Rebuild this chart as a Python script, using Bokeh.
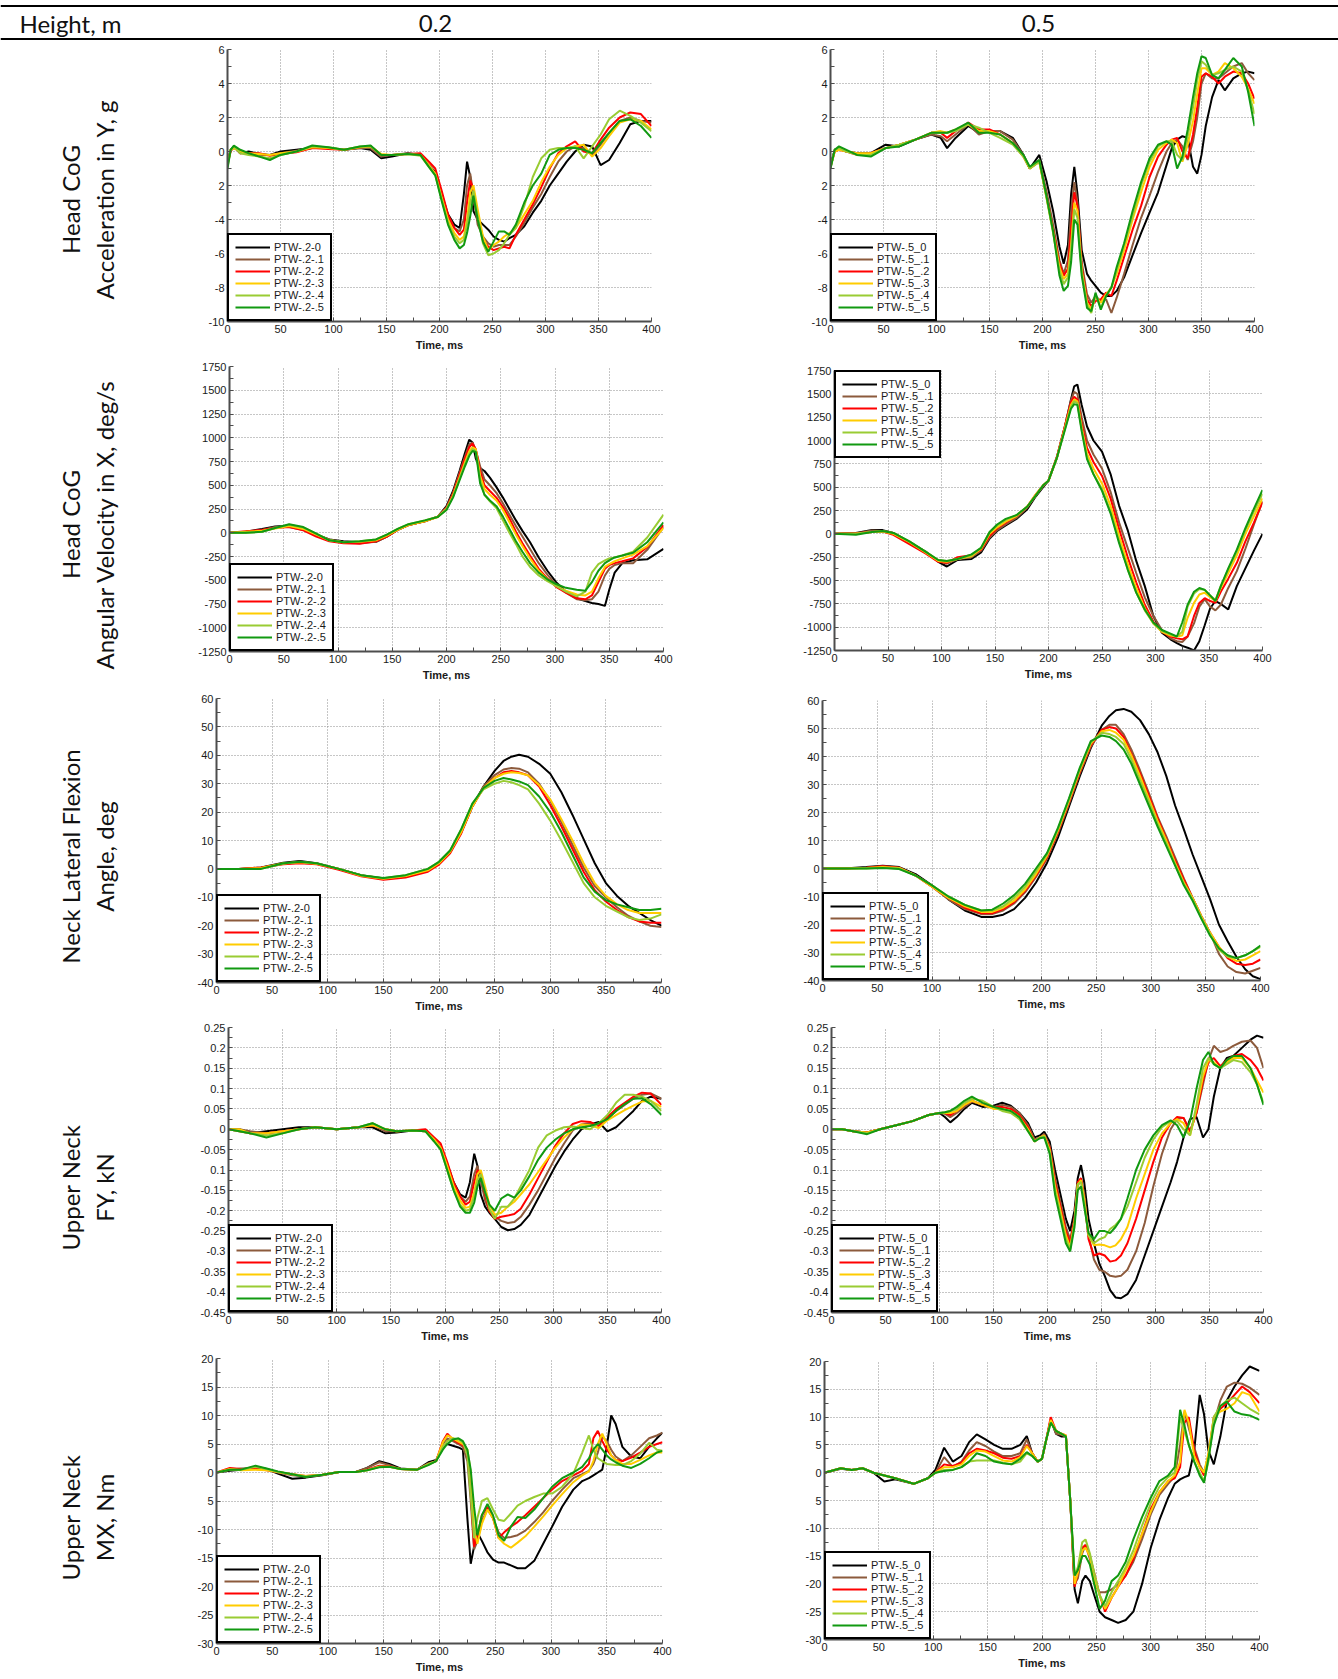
import math
from bokeh.plotting import figure
from bokeh.layouts import row, column
from bokeh.models import Range1d, FixedTicker, Legend, LegendItem, Label, Span
from bokeh.embed import file_html
from bokeh.resources import INLINE

# ---------------------------------------------------------------- series setup
COLORS = ["#000000", "#8c5a3c", "#ff0000", "#ffcc00", "#99cc33", "#119911"]
NAMES_02 = ["PTW-.2-0", "PTW-.2-.1", "PTW-.2-.2", "PTW-.2-.3", "PTW-.2-.4", "PTW-.2-.5"]
NAMES_05 = ["PTW-.5_0", "PTW-.5_.1", "PTW-.5_.2", "PTW-.5_.3", "PTW-.5_.4", "PTW-.5_.5"]

HEIGHT_HEADERS = ["0.2", "0.5"]
ROW_TITLES = [
    ("Head CoG", "Acceleration in Y, g"),
    ("Head CoG", "Angular Velocity in X, deg/s"),
    ("Neck Lateral Flexion", "Angle, deg"),
    ("Upper Neck", "FY, kN"),
    ("Upper Neck", "MX, Nm"),
]

TIME_TICKS = [0, 50, 100, 150, 200, 250, 300, 350, 400]

ACC_TICKS = [-10, -8, -6, -4, -2, 0, 2, 4, 6]
ACC_LABELS = ["-10", "-8", "-6", "-4", "2", "0", "2", "4", "6"]
VEL_TICKS = [-1250, -1000, -750, -500, -250, 0, 250, 500, 750, 1000, 1250, 1500, 1750]
VEL_LABELS = ["-1250", "-1000", "-750", "-500", "-250", "0", "250", "500", "750",
              "1000", "1250", "1500", "1750"]
ANG_TICKS = [-40, -30, -20, -10, 0, 10, 20, 30, 40, 50, 60]
ANG_LABELS = ["-40", "-30", "-20", "-10", "0", "10", "20", "30", "40", "50", "60"]
FY_TICKS = [-0.45, -0.4, -0.35, -0.3, -0.25, -0.2, -0.15, -0.1, -0.05, 0, 0.05, 0.1, 0.15, 0.2, 0.25]
FY_LABELS = ["-0.45", "-0.4", "-0.35", "-0.3", "-0.25", "-0.2", "-0.15", "0.1", "-0.05",
             "0", "0.05", "0.1", "0.15", "0.2", "0.25"]
MX_TICKS = [-30, -25, -20, -15, -10, -5, 0, 5, 10, 15, 20]
MX_LABELS = ["-30", "-25", "-20", "-15", "-10", "5", "0", "5", "10", "15", "20"]

# ---------------------------------------------------------------- head acceleration Y, 0.2 m
# rows: time, then the six runs in legend order
acc02_rows = [
    (0, -0.6, -0.7, -0.7, -0.8, -0.9, -1.0),
    (3, 0.1, 0.1, 0.0, 0.1, 0.1, 0.1),
    (6, 0.3, 0.2, 0.3, 0.2, 0.3, 0.35),
    (12, -0.1, 0.0, -0.1, 0.0, -0.1, 0.1),
    (20, 0.0, -0.1, -0.1, -0.1, -0.2, -0.1),
    (30, -0.15, -0.2, -0.1, -0.15, -0.3, -0.3),
    (40, -0.2, -0.2, -0.25, -0.2, -0.4, -0.5),
    (50, 0.0, -0.1, -0.15, -0.1, -0.2, -0.2),
    (65, 0.1, 0.05, -0.05, 0.0, 0.0, 0.0),
    (80, 0.2, 0.2, 0.2, 0.25, 0.3, 0.35),
    (95, 0.2, 0.2, 0.15, 0.2, 0.25, 0.25),
    (110, 0.1, 0.1, 0.1, 0.1, 0.1, 0.1),
    (125, 0.2, 0.2, 0.25, 0.25, 0.3, 0.3),
    (135, 0.1, 0.2, 0.3, 0.3, 0.3, 0.35),
    (145, -0.4, -0.3, -0.2, -0.15, -0.2, -0.2),
    (155, -0.3, -0.2, -0.2, -0.2, -0.2, -0.2),
    (170, -0.1, -0.1, -0.15, -0.15, -0.15, -0.15),
    (182, -0.2, -0.2, -0.1, -0.2, -0.25, -0.2),
    (190, -0.8, -0.8, -0.6, -0.8, -0.9, -0.9),
    (196, -1.2, -1.3, -1.0, -1.3, -1.4, -1.4),
    (202, -2.5, -2.6, -2.3, -2.7, -2.8, -2.9),
    (208, -3.7, -3.9, -3.7, -4.0, -4.2, -4.3),
    (214, -4.3, -4.5, -4.5, -4.8, -5.0, -5.2),
    (219, -4.5, -4.7, -4.9, -5.2, -5.4, -5.7),
    (223, -2.5, -4.0, -4.6, -5.0, -5.2, -5.5),
    (226, -0.6, -2.0, -3.0, -4.0, -4.3, -4.8),
    (229, -1.5, -1.3, -1.7, -2.4, -3.0, -3.8),
    (232, -3.5, -2.6, -2.2, -2.0, -2.3, -2.6),
    (236, -4.0, -4.3, -3.8, -3.4, -3.8, -4.0),
    (241, -4.3, -5.0, -5.2, -5.0, -5.4, -5.3),
    (246, -4.6, -5.4, -5.6, -5.8, -6.1, -5.9),
    (251, -5.0, -5.6, -5.8, -5.5, -6.0, -5.3),
    (256, -5.2, -5.5, -5.7, -5.3, -5.8, -4.7),
    (261, -5.3, -5.5, -5.6, -5.0, -5.4, -4.7),
    (266, -5.1, -5.5, -5.7, -4.8, -4.9, -4.9),
    (272, -4.9, -5.0, -4.9, -4.5, -4.5, -4.3),
    (280, -4.4, -4.2, -4.0, -3.7, -3.2, -3.0),
    (288, -3.6, -3.3, -3.1, -2.9, -1.5, -2.0),
    (296, -2.9, -2.5, -2.1, -1.8, -0.4, -1.3),
    (304, -2.0, -1.5, -1.0, -0.9, 0.1, -0.2),
    (312, -1.3, -0.6, -0.1, -0.2, 0.2, 0.1),
    (320, -0.6, 0.0, 0.3, 0.2, 0.2, 0.2),
    (328, 0.0, 0.3, 0.6, 0.3, 0.3, 0.2),
    (336, 0.4, 0.2, 0.0, 0.4, -0.4, 0.1),
    (344, 0.3, -0.2, -0.1, -0.3, 0.3, -0.1),
    (352, -0.8, 0.4, 0.7, 0.2, 1.0, 0.5),
    (360, -0.5, 1.1, 1.4, 0.9, 1.9, 1.1),
    (370, 0.5, 1.8, 2.0, 1.7, 2.4, 1.8),
    (380, 1.6, 2.0, 2.3, 1.9, 2.1, 1.9),
    (390, 1.8, 1.8, 2.2, 1.8, 1.7, 1.5),
    (400, 1.8, 1.7, 1.5, 1.3, 1.2, 0.8),
]

# ---------------------------------------------------------------- head acceleration Y, 0.5 m
acc05_rows = [
    (0, -0.8, -0.9, -0.9, -0.9, -1.0, -1.0),
    (4, 0.1, 0.1, 0.0, 0.0, 0.1, 0.1),
    (8, 0.2, 0.2, 0.1, 0.1, 0.2, 0.3),
    (15, 0.0, 0.0, 0.0, 0.0, 0.0, 0.1),
    (25, -0.1, -0.1, -0.2, -0.1, -0.2, -0.2),
    (38, -0.1, -0.1, -0.1, -0.1, -0.2, -0.3),
    (52, 0.4, 0.2, 0.2, 0.2, 0.2, 0.2),
    (65, 0.3, 0.4, 0.4, 0.4, 0.4, 0.3),
    (80, 0.7, 0.7, 0.7, 0.7, 0.7, 0.7),
    (95, 1.0, 1.0, 1.1, 1.1, 1.1, 1.1),
    (104, 0.8, 0.9, 1.1, 1.2, 1.1, 1.1),
    (110, 0.2, 0.6, 0.8, 1.1, 1.1, 1.1),
    (118, 0.8, 1.0, 1.2, 1.3, 1.2, 1.3),
    (130, 1.5, 1.6, 1.7, 1.6, 1.6, 1.7),
    (140, 1.1, 1.0, 1.3, 1.2, 1.4, 1.1),
    (150, 1.2, 1.2, 1.3, 1.2, 1.1, 1.1),
    (160, 1.2, 1.2, 1.0, 1.0, 0.8, 1.0),
    (172, 0.8, 0.7, 0.5, 0.5, 0.4, 0.5),
    (182, -0.2, -0.2, -0.3, -0.3, -0.3, -0.2),
    (188, -1.0, -1.0, -1.0, -1.0, -1.0, -0.9),
    (197, -0.2, -0.5, -0.6, -0.6, -0.6, -0.5),
    (204, -1.8, -2.4, -2.7, -2.8, -2.8, -2.7),
    (210, -3.5, -4.3, -4.6, -4.7, -4.8, -4.7),
    (216, -5.6, -6.4, -6.6, -6.8, -7.0, -7.3),
    (220, -6.6, -7.2, -7.3, -7.5, -7.8, -8.2),
    (224, -5.5, -6.4, -6.9, -7.2, -7.4, -7.9),
    (227, -2.5, -3.5, -4.5, -5.5, -5.8, -6.5),
    (230, -0.9, -1.8, -2.4, -3.0, -3.4, -4.0),
    (233, -2.5, -3.0, -3.2, -3.5, -3.9, -4.3),
    (237, -5.8, -6.5, -6.8, -7.0, -7.1, -7.3),
    (242, -7.2, -8.4, -8.7, -8.9, -9.0, -9.2),
    (246, -7.6, -8.9, -9.1, -9.3, -9.5, -9.4),
    (250, -7.9, -8.5, -8.8, -8.5, -8.4, -8.3),
    (255, -8.3, -8.8, -8.7, -8.9, -9.2, -9.3),
    (260, -8.5, -8.7, -8.3, -8.4, -8.5, -8.5),
    (265, -8.5, -9.5, -8.5, -8.0, -8.0, -8.0),
    (270, -8.2, -8.6, -7.6, -7.2, -7.0, -6.8),
    (277, -7.4, -7.2, -6.2, -5.8, -5.5, -5.4),
    (285, -6.1, -5.5, -4.6, -4.0, -3.8, -3.5),
    (293, -4.8, -3.9, -3.2, -2.4, -2.0, -1.8),
    (301, -3.6, -2.6, -1.5, -0.9, -0.6, -0.4),
    (309, -2.4, -1.2, -0.3, 0.1, 0.3, 0.4),
    (317, -0.8, 0.0, 0.4, 0.5, 0.6, 0.6),
    (322, 0.2, 0.5, 0.7, 0.7, 0.6, 0.4),
    (327, 0.7, 0.7, 0.8, 0.5, -0.2, -1.0),
    (332, 0.9, 0.3, 0.0, -0.6, -0.5, -0.3),
    (337, 0.8, -0.5, -0.4, 0.4, 0.9, 1.3),
    (342, -0.9, 0.6, 1.0, 1.8, 2.6, 3.2),
    (346, -1.3, 2.0, 2.6, 3.4, 4.2, 4.6),
    (350, -0.2, 4.0, 4.4, 4.9, 5.3, 5.6),
    (354, 1.5, 4.6, 4.6, 4.9, 5.1, 5.5),
    (360, 3.2, 4.3, 4.4, 4.5, 4.5, 4.5),
    (366, 4.2, 4.3, 4.0, 4.7, 4.6, 4.3),
    (372, 3.6, 4.6, 4.4, 5.2, 4.8, 4.8),
    (380, 4.3, 5.0, 4.7, 4.9, 5.0, 5.5),
    (388, 4.6, 5.2, 4.6, 4.4, 4.7, 5.0),
    (394, 4.7, 4.6, 4.0, 3.7, 3.6, 3.5),
    (400, 4.6, 4.2, 3.1, 2.8, 2.2, 1.5),
]

# ---------------------------------------------------------------- head angular velocity X, 0.2 m
vel02_rows = [
    (0, 0, 0, 0, 0, 0, 0),
    (15, 10, 5, 15, 10, 0, 0),
    (30, 40, 30, 30, 20, 10, 10),
    (42, 65, 60, 50, 45, 50, 50),
    (55, 75, 60, 60, 70, 85, 90),
    (68, 40, 30, 25, 40, 55, 60),
    (80, -20, -20, -40, -20, -10, -10),
    (92, -70, -70, -90, -80, -80, -80),
    (105, -90, -100, -110, -100, -100, -100),
    (120, -100, -110, -115, -95, -90, -90),
    (135, -95, -95, -90, -80, -70, -70),
    (145, -40, -40, -40, -30, -20, -20),
    (155, 30, 30, 30, 30, 40, 40),
    (165, 80, 80, 80, 80, 90, 90),
    (180, 120, 120, 120, 120, 130, 130),
    (192, 170, 170, 170, 165, 170, 165),
    (200, 280, 270, 260, 250, 250, 240),
    (206, 440, 420, 410, 390, 380, 370),
    (212, 650, 630, 610, 580, 570, 550),
    (217, 840, 800, 780, 740, 720, 700),
    (221, 980, 930, 900, 860, 830, 810),
    (224, 950, 950, 940, 900, 880, 860),
    (227, 780, 870, 880, 880, 860, 850),
    (231, 680, 700, 650, 600, 560, 520),
    (235, 650, 560, 500, 460, 400, 400),
    (240, 580, 500, 440, 400, 330, 340),
    (246, 480, 420, 370, 340, 260, 280),
    (252, 370, 310, 270, 240, 130, 170),
    (258, 250, 190, 150, 110, 0, 40),
    (264, 130, 70, 10, -20, -120, -90),
    (270, 20, -40, -110, -140, -250, -200),
    (277, -100, -170, -240, -270, -360, -320),
    (285, -260, -320, -380, -400, -450, -420),
    (293, -400, -440, -480, -490, -510, -490),
    (301, -520, -550, -570, -560, -560, -540),
    (310, -620, -630, -630, -610, -620, -580),
    (320, -690, -700, -690, -650, -670, -600),
    (328, -720, -710, -700, -660, -620, -610),
    (334, -740, -700, -660, -620, -420, -520),
    (340, -750, -620, -520, -480, -330, -400),
    (346, -770, -450, -380, -360, -290, -320),
    (350, -600, -380, -340, -330, -270, -290),
    (355, -420, -340, -320, -300, -260, -260),
    (362, -320, -320, -300, -270, -240, -240),
    (372, -290, -320, -270, -230, -200, -210),
    (385, -280, -180, -150, -140, -50, -100),
    (400, -170, 60, 80, 50, 190, 110),
]

# ---------------------------------------------------------------- head angular velocity X, 0.5 m
vel05_rows = [
    (0, 0, 0, 0, 0, 0, 0),
    (20, 10, 5, 5, 0, 0, -10),
    (35, 40, 35, 20, 20, 20, 20),
    (45, 40, 30, 25, 25, 30, 30),
    (55, 10, 10, -10, 0, 10, 10),
    (70, -90, -90, -110, -90, -80, -80),
    (85, -190, -190, -210, -200, -190, -190),
    (97, -300, -290, -300, -290, -280, -280),
    (105, -350, -320, -310, -300, -290, -290),
    (115, -280, -270, -250, -270, -270, -270),
    (128, -270, -250, -230, -240, -230, -220),
    (137, -200, -180, -170, -160, -150, -150),
    (145, -50, -40, -20, 0, 20, 20),
    (152, 30, 40, 60, 70, 90, 100),
    (160, 90, 100, 120, 130, 150, 160),
    (170, 160, 170, 190, 190, 200, 200),
    (180, 260, 280, 290, 290, 290, 290),
    (188, 400, 410, 420, 420, 410, 410),
    (195, 500, 510, 520, 520, 520, 520),
    (200, 570, 570, 570, 570, 570, 570),
    (208, 820, 830, 830, 820, 820, 820),
    (215, 1130, 1140, 1140, 1120, 1110, 1100),
    (221, 1440, 1430, 1410, 1380, 1360, 1340),
    (224, 1580, 1520, 1470, 1440, 1420, 1390),
    (227, 1600, 1500, 1440, 1420, 1400, 1380),
    (231, 1380, 1250, 1180, 1140, 1120, 1100),
    (236, 1150, 1000, 920, 860, 820, 800),
    (242, 1000, 850, 770, 700, 640, 640),
    (250, 880, 700, 620, 540, 480, 460),
    (258, 640, 450, 380, 300, 240, 220),
    (266, 300, 120, 50, -20, -80, -100),
    (274, 40, -150, -250, -320, -380, -380),
    (282, -290, -420, -520, -580, -630, -630),
    (290, -560, -680, -760, -800, -820, -810),
    (298, -880, -880, -940, -960, -960, -950),
    (306, -1060, -1030, -1050, -1050, -1040, -1030),
    (314, -1130, -1120, -1100, -1090, -1080, -1070),
    (320, -1170, -1150, -1120, -1100, -1100, -1100),
    (325, -1200, -1160, -1130, -1090, -1050, -950),
    (330, -1220, -1100, -1100, -900, -780, -760),
    (336, -1250, -960, -880, -740, -640, -620),
    (341, -1150, -780, -740, -650, -590, -580),
    (346, -980, -700, -690, -630, -600, -600),
    (351, -800, -780, -720, -680, -660, -660),
    (356, -720, -820, -740, -720, -710, -720),
    (361, -750, -760, -620, -580, -560, -560),
    (368, -810, -580, -480, -420, -380, -370),
    (376, -560, -400, -310, -230, -190, -170),
    (384, -370, -160, -80, 0, 40, 60),
    (392, -180, 100, 120, 190, 240, 270),
    (400, 0, 350, 340, 380, 430, 470),
]

# ---------------------------------------------------------------- neck lateral flexion angle, 0.2 m
ang02_rows = [
    (0, 0, 0, 0, 0, 0, 0),
    (20, 0, 0, 0, 0, 0, 0),
    (40, 0.5, 0.3, 0.5, 0.3, 0, 0),
    (60, 2.2, 1.8, 1.6, 2.0, 1.8, 2.0),
    (75, 2.8, 2.3, 2.0, 2.3, 2.5, 2.5),
    (90, 2.0, 1.8, 1.6, 1.8, 1.9, 2.0),
    (110, 0, 0, -0.3, 0, 0, 0),
    (130, -2.2, -2.3, -2.6, -2.4, -2.2, -2.2),
    (150, -3.4, -3.5, -3.8, -3.5, -3.3, -3.2),
    (170, -2.5, -2.6, -3.0, -2.5, -2.2, -2.2),
    (190, -0.5, -0.5, -1.0, -0.5, 0, 0),
    (200, 2, 2, 1.5, 2, 2.5, 2.5),
    (210, 6, 6, 5.5, 6, 6.5, 6.5),
    (220, 13, 13, 12.5, 13, 14, 14),
    (230, 22, 22, 22, 22, 23, 23),
    (240, 29, 29, 28.5, 28.5, 28, 28.5),
    (250, 34.5, 33, 32, 32, 30, 31),
    (258, 38, 35, 34, 33.5, 31, 32),
    (265, 39.5, 35.5, 34.5, 34, 30.5, 31.5),
    (272, 40.2, 35.3, 34, 33.8, 29.5, 30.8),
    (280, 39.5, 34, 33, 33, 28, 29.5),
    (290, 37, 30, 29, 29.5, 23, 25.5),
    (300, 33.5, 24, 22.5, 24.5, 17, 20),
    (310, 27, 16.5, 15, 17.5, 10, 13),
    (320, 19, 8.5, 7, 10, 2.5, 5),
    (330, 10.5, 0.5, -1, 2, -5, -3),
    (340, 2, -6, -7.5, -5, -10, -8),
    (350, -5, -10, -11.5, -9.5, -13, -11),
    (360, -9.5, -13.5, -14.5, -12.5, -15, -12.5),
    (370, -13, -16.5, -17, -14.5, -17, -13.5),
    (380, -15.5, -18.5, -18.5, -15.5, -18, -14.5),
    (390, -18, -20, -19, -15.5, -17.5, -14.5),
    (400, -20, -20.5, -19, -15.5, -16, -14),
]

# ---------------------------------------------------------------- neck lateral flexion angle, 0.5 m
ang05_t = [0, 20, 40, 55, 70, 85, 100, 115, 130, 145, 155, 165, 175, 185, 195, 205, 215, 225, 235, 245,
           255, 262, 268, 275, 282, 290, 298, 306, 314, 322, 330, 338, 346, 354, 362, 370, 378, 386, 393, 400]
ang05_0 = [0, 0, 0.5, 1, 0.5, -2, -6, -11, -15, -17.3, -17.3, -16.5, -14.5, -10.5, -5, 2, 11, 22, 33, 43,
           51, 54.5, 56.5, 57, 56, 53, 48, 41.5, 33, 22.5, 14, 5, -3, -11, -20, -26, -31.5, -36, -38.5, -39.5]
ang05_1 = [0, 0, 0.3, 0.8, 0.3, -2.5, -6.5, -11, -14.5, -16.3, -16.3, -15, -12.5, -8.5, -3, 3.5, 12.5, 23, 34, 43.5,
           49.5, 51.3, 51.3, 48, 42.5, 35, 27, 18.5, 11.5, 4, -3.5, -10.5, -17, -23, -30.5, -35, -37, -37.5, -36.5, -35.5]
ang05_2 = [0, 0, 0.3, 0.8, 0.3, -2.5, -6.5, -10.5, -14, -16, -16, -14.5, -12, -8, -2.5, 4, 13, 23.5, 34.5, 44,
           49.5, 50.5, 50, 47, 41, 34, 26, 18, 10.5, 3, -4, -10.5, -17, -23, -28, -32, -34, -34.5, -34, -32.5]
ang05_3 = [0, 0, 0.2, 0.5, 0.2, -2.5, -6.5, -10.5, -13.5, -15.5, -15.5, -14, -11.5, -7.5, -2, 4.5, 13.5, 24, 35, 44.5,
           49, 49.5, 48.5, 46, 40.5, 33, 25, 17, 10, 2, -5, -10.5, -17, -23, -28, -31.5, -33, -32.5, -31, -29.5]
ang05_4 = [0, 0, 0, 0.3, 0, -2.5, -6, -10, -13, -15, -15, -13.5, -10.5, -6.5, -1, 5, 14, 24.5, 35.5, 45,
           48.5, 48, 47, 44.5, 39, 31.5, 24, 16, 9, 1.5, -5.5, -11, -17.5, -23.5, -29, -31.5, -32, -31, -29.5, -28]
ang05_5 = [0, 0, 0, 0.2, -0.2, -2.5, -6, -10, -13, -15, -14.7, -12.5, -9.5, -5.5, 0, 5.5, 14.5, 25, 36, 45.5,
           47.5, 47, 45.5, 42.5, 37.5, 30, 22.5, 15, 8, 1, -6, -11.5, -18, -24, -28.5, -31, -32, -31, -29.5, -27.5]

# ---------------------------------------------------------------- upper neck FY, 0.2 m
fy02_rows = [
    (0, 0, 0, 0, 0, 0, 0),
    (10, 0, 0, -0.005, 0, -0.005, -0.005),
    (20, -0.01, -0.005, -0.01, -0.01, -0.01, -0.01),
    (35, -0.005, -0.01, -0.01, -0.01, -0.015, -0.02),
    (50, 0.0, -0.005, -0.005, -0.005, -0.01, -0.01),
    (65, 0.005, 0.0, 0.0, 0.0, 0.0, 0.0),
    (80, 0.005, 0.005, 0.005, 0.005, 0.005, 0.005),
    (100, 0.0, 0.0, 0.0, 0.0, 0.0, 0.0),
    (120, 0.005, 0.005, 0.005, 0.005, 0.005, 0.005),
    (133, 0.005, 0.01, 0.01, 0.01, 0.015, 0.015),
    (145, -0.01, -0.005, 0.0, 0.0, 0.0, 0.0),
    (155, -0.008, -0.005, -0.005, -0.005, -0.005, -0.005),
    (170, -0.003, -0.003, -0.003, -0.003, -0.003, -0.003),
    (182, -0.005, -0.005, 0.0, -0.005, -0.005, -0.005),
    (190, -0.025, -0.025, -0.02, -0.025, -0.03, -0.03),
    (196, -0.045, -0.045, -0.035, -0.045, -0.05, -0.05),
    (202, -0.085, -0.09, -0.08, -0.09, -0.1, -0.1),
    (208, -0.13, -0.135, -0.13, -0.14, -0.15, -0.15),
    (214, -0.16, -0.165, -0.165, -0.175, -0.185, -0.19),
    (219, -0.168, -0.178, -0.185, -0.193, -0.2, -0.205),
    (223, -0.13, -0.165, -0.178, -0.19, -0.197, -0.205),
    (227, -0.06, -0.11, -0.13, -0.155, -0.165, -0.18),
    (230, -0.09, -0.09, -0.1, -0.11, -0.125, -0.14),
    (233, -0.16, -0.125, -0.11, -0.1, -0.11, -0.12),
    (237, -0.19, -0.175, -0.16, -0.14, -0.15, -0.155),
    (241, -0.205, -0.2, -0.2, -0.185, -0.195, -0.185),
    (246, -0.22, -0.215, -0.22, -0.21, -0.22, -0.2),
    (252, -0.24, -0.225, -0.215, -0.205, -0.19, -0.17),
    (258, -0.248, -0.23, -0.212, -0.19, -0.19, -0.16),
    (264, -0.245, -0.228, -0.208, -0.178, -0.17, -0.168),
    (270, -0.235, -0.215, -0.195, -0.16, -0.14, -0.15),
    (278, -0.21, -0.185, -0.16, -0.135, -0.1, -0.115),
    (286, -0.17, -0.15, -0.12, -0.105, -0.045, -0.075),
    (294, -0.13, -0.11, -0.08, -0.075, -0.015, -0.045),
    (302, -0.09, -0.07, -0.04, -0.045, -0.003, -0.025),
    (310, -0.055, -0.035, -0.01, -0.02, 0.005, -0.01),
    (318, -0.025, -0.003, 0.013, 0.0, 0.007, 0.0),
    (326, 0.0, 0.012, 0.02, 0.012, 0.003, 0.005),
    (334, 0.012, 0.015, 0.018, 0.01, 0.0, 0.008),
    (342, 0.018, 0.01, 0.008, 0.003, 0.015, 0.015),
    (350, -0.005, 0.025, 0.03, 0.022, 0.035, 0.025),
    (358, 0.005, 0.045, 0.05, 0.035, 0.065, 0.045),
    (366, 0.025, 0.06, 0.065, 0.047, 0.085, 0.062),
    (374, 0.045, 0.075, 0.08, 0.058, 0.085, 0.075),
    (382, 0.07, 0.085, 0.09, 0.068, 0.08, 0.076),
    (390, 0.08, 0.088, 0.088, 0.07, 0.07, 0.062),
    (400, 0.075, 0.075, 0.06, 0.055, 0.045, 0.035),
]

# ---------------------------------------------------------------- upper neck FY, 0.5 m
fy05_t = [0, 10, 20, 33, 45, 60, 75, 90, 100, 105, 110, 116, 123, 130, 140, 150, 158, 166, 174, 182,
          188, 193, 197, 202, 207, 212, 217, 221, 225, 228, 231, 234, 238, 243, 248, 253, 258, 263, 268, 274,
          282, 290, 298, 306, 314, 320, 326, 332, 338, 344, 349, 354, 360, 366, 372, 380, 388, 394, 400]
fy05_0 = [0, 0, -0.005, -0.008, 0.0, 0.01, 0.02, 0.035, 0.04, 0.03, 0.017, 0.03, 0.05, 0.065, 0.055,
          0.058, 0.065, 0.058, 0.04, 0.015, -0.02, -0.015, -0.006, -0.03, -0.1, -0.16, -0.22, -0.25, -0.2, -0.12,
          -0.088, -0.13, -0.22, -0.28, -0.33, -0.36, -0.395, -0.413, -0.415, -0.405, -0.37, -0.31, -0.25, -0.19, -0.13,
          -0.08, -0.02, 0.025, 0.03, -0.02, 0.0, 0.08, 0.15, 0.175, 0.18, 0.2, 0.22, 0.23, 0.225]
fy05_1 = [0, 0, -0.005, -0.008, 0.0, 0.01, 0.02, 0.035, 0.04, 0.038, 0.03, 0.04, 0.055, 0.068, 0.06,
          0.055, 0.06, 0.055, 0.04, 0.01, -0.025, -0.02, -0.012, -0.04, -0.12, -0.18, -0.24, -0.27, -0.22, -0.14,
          -0.12, -0.16, -0.26, -0.32, -0.345, -0.35, -0.36, -0.362, -0.36, -0.345, -0.3, -0.23, -0.14, -0.06, 0.0,
          0.025, 0.028, -0.005, 0.04, 0.11, 0.17, 0.205, 0.19, 0.195, 0.205, 0.215, 0.218, 0.2, 0.15]
fy05_2 = [0, 0, -0.005, -0.008, 0.0, 0.01, 0.02, 0.035, 0.04, 0.04, 0.035, 0.045, 0.06, 0.07, 0.06,
          0.055, 0.055, 0.05, 0.035, 0.005, -0.03, -0.02, -0.015, -0.045, -0.13, -0.19, -0.25, -0.28, -0.22, -0.13,
          -0.12, -0.17, -0.27, -0.31, -0.305, -0.31, -0.325, -0.322, -0.31, -0.28, -0.22, -0.15, -0.08, -0.02, 0.015,
          0.03, 0.028, -0.005, 0.04, 0.12, 0.165, 0.175, 0.155, 0.17, 0.18, 0.185, 0.17, 0.15, 0.12]
fy05_3 = [0, 0, -0.005, -0.008, 0.0, 0.01, 0.02, 0.035, 0.04, 0.04, 0.04, 0.045, 0.06, 0.07, 0.06,
          0.05, 0.05, 0.045, 0.03, 0.0, -0.03, -0.02, -0.015, -0.05, -0.14, -0.2, -0.26, -0.29, -0.23, -0.135,
          -0.125, -0.17, -0.26, -0.285, -0.283, -0.285, -0.29, -0.285, -0.27, -0.24, -0.17, -0.11, -0.05, -0.01, 0.015,
          0.025, 0.015, -0.015, 0.05, 0.13, 0.17, 0.165, 0.15, 0.165, 0.175, 0.175, 0.15, 0.12, 0.09]
fy05_4 = [0, 0, -0.005, -0.01, 0.0, 0.01, 0.02, 0.035, 0.04, 0.042, 0.045, 0.05, 0.065, 0.075, 0.07,
          0.055, 0.045, 0.04, 0.025, -0.005, -0.03, -0.02, -0.017, -0.055, -0.15, -0.21, -0.27, -0.295, -0.23, -0.135,
          -0.13, -0.18, -0.26, -0.28, -0.27, -0.265, -0.245, -0.235, -0.22, -0.19, -0.13, -0.07, -0.025, 0.005, 0.02,
          0.02, 0.0, -0.015, 0.06, 0.15, 0.175, 0.16, 0.15, 0.16, 0.17, 0.165, 0.14, 0.11, 0.065]
fy05_5 = [0, 0, -0.005, -0.012, 0.0, 0.01, 0.02, 0.035, 0.04, 0.042, 0.045, 0.055, 0.07, 0.08, 0.065,
          0.055, 0.05, 0.045, 0.03, -0.005, -0.03, -0.022, -0.02, -0.06, -0.16, -0.22, -0.28, -0.3, -0.24, -0.15,
          -0.14, -0.19, -0.255, -0.27, -0.25, -0.25, -0.255, -0.24, -0.22, -0.17, -0.1, -0.05, -0.015, 0.01, 0.022,
          0.01, -0.02, 0.02, 0.1, 0.17, 0.19, 0.16, 0.15, 0.17, 0.18, 0.18, 0.15, 0.11, 0.06]

# ---------------------------------------------------------------- upper neck MX, 0.2 m
mx02_t = [0, 12, 22, 35, 45, 55, 68, 80, 95, 110, 125, 135, 146, 155, 165, 180, 190, 197, 203, 207,
          212, 217, 221, 225, 228, 231, 234, 238, 243, 248, 253, 258, 264, 270, 277, 285, 293, 301, 310, 320,
          328, 334, 338, 342, 346, 350, 354, 358, 364, 372, 380, 388, 395, 400]
mx02_0 = [0, 0.3, 0.5, 1.0, 0.6, -0.2, -1.1, -0.9, -0.5, 0.1, 0.1, 0.8, 2.0, 1.5, 0.7, 0.5, 1.8, 2.2, 4.5, 5.0,
          4.7, 4.4, 4.0, -8, -16, -13, -10.5, -12, -14, -15.3, -15.8, -15.8, -16.3, -16.8, -16.8, -15.5, -12.5, -9.5, -6, -3,
          -1.5, -1.0, -0.5, 0.0, 0.5, 4.5, 10.0, 8.5, 4.5, 2.8, 2.5, 4.5, 6.0, 7.0]
mx02_1 = [0, 0.5, 0.7, 0.8, 0.5, 0, -0.5, -0.7, -0.4, 0.1, 0.1, 0.8, 1.8, 1.3, 0.6, 0.5, 1.6, 2.0, 5.0, 6.0,
          5.5, 5.0, 4.5, 2.0, -5, -13.5, -12, -8.5, -6.5, -8, -10.5, -11.5, -11.3, -11, -10.2, -8.7, -7, -5, -3, -1,
          -0.3, 0.3, 1.5, 3.5, 6.3, 5.5, 4.0, 2.8, 2.0, 3.0, 4.5, 6.0, 6.5, 7.0]
mx02_2 = [0, 0.8, 0.6, 0.6, 0.4, 0.1, -0.3, -0.6, -0.4, 0.1, 0.1, 0.5, 1.2, 1.1, 0.6, 0.5, 1.5, 2.0, 5.5, 6.8,
          5.8, 5.2, 4.8, 3.5, -3, -13, -11, -7.5, -6, -8, -11.5, -10.5, -9.5, -8.7, -7.5, -6, -4.5, -3, -1.5, -0.5,
          0.3, 1.5, 6.0, 7.3, 5.5, 4.0, 3.0, 2.2, 2.0, 2.6, 3.5, 4.5, 5.0, 5.3]
mx02_3 = [0, 0.6, 0.4, 0.5, 0.4, 0.1, -0.3, -0.6, -0.4, 0.1, 0.1, 0.4, 1.0, 1.0, 0.6, 0.5, 1.4, 2.0, 5.3, 6.5,
          6.0, 5.4, 5.0, 4.0, 0, -10, -12.5, -9, -6.5, -8, -11.5, -12.5, -13.2, -12.3, -11.2, -9.5, -7.7, -5.8, -3.8, -1.7,
          -0.5, 0.2, 2.0, 5.0, 6.8, 5.0, 3.0, 2.2, 1.5, 1.5, 2.2, 3.0, 3.5, 3.5]
mx02_4 = [0, 0.5, 0.5, 1.0, 0.6, 0.1, -0.3, -0.7, -0.4, 0.1, 0.1, 0.4, 1.0, 1.0, 0.6, 0.5, 1.5, 2.0, 4.5, 5.5,
          6.0, 5.8, 5.3, 3.0, -4, -11.5, -8, -5, -4.5, -6.5, -8.3, -8.5, -7.2, -5.8, -5, -4.3, -3.7, -3.7, -2.5, -0.2,
          3.5, 6.5, 4.0, 2.5, 2.0, 1.5, 1.4, 1.3, 1.3, 2.0, 3.3, 5.2, 4.0, 3.8]
mx02_5 = [0, 0.5, 0.5, 1.2, 0.7, 0.2, -0.3, -0.8, -0.4, 0.1, 0.1, 0.4, 0.9, 1.0, 0.6, 0.5, 1.3, 2.0, 4.0, 5.0,
          5.8, 6.0, 5.5, 4.0, 0.5, -6, -11, -7.5, -5.5, -7.5, -11, -12, -9.5, -7.8, -8.0, -6.5, -4.5, -2.5, -1, 0,
          1.0, 2.5, 4.0, 5.0, 4.0, 3.0, 2.3, 1.8, 1.2, 0.8, 1.5, 2.5, 3.5, 3.8]

# ---------------------------------------------------------------- upper neck MX, 0.5 m
mx05_t = [0, 15, 25, 35, 45, 55, 65, 82, 95, 102, 110, 118, 126, 133, 140, 148, 156, 164, 172, 180,
          186, 191, 196, 200, 204, 208, 213, 218, 222, 226, 230, 233, 237, 240, 244, 248, 253, 258, 264, 270,
          277, 284, 292, 300, 308, 316, 322, 327, 331, 335, 340, 345, 349, 353, 358, 364, 370, 377, 384, 391, 400]
mx05_0 = [0, 0.7, 0.5, 0.8, 0, -1.6, -1.2, -2, -1, 0.5, 4.5, 2.0, 3.0, 5.5, 6.9, 6.0, 5.0, 4.3, 4.3, 5.0,
          6.6, 3.5, 2.0, 2.5, 6.0, 9.5, 7.0, 6.5, 6.5, -5, -21, -23.5, -19.5, -18.5, -19.5, -22, -25, -26, -26.5, -27,
          -26.5, -25, -20, -13.5, -8.5, -4.5, -2.0, -1.2, -0.8, -0.5, 4.0, 14.0, 10.5, 4.0, 1.5, 6.5, 13.0, 15.5, 17.5, 19.1,
          18.3]
mx05_1 = [0, 0.8, 0.5, 0.8, 0, -0.5, -1.0, -2, -1, 0, 2.8, 1.0, 2.0, 4.0, 5.5, 4.8, 3.8, 3.0, 3.0, 3.5,
          6.0, 3.5, 2.0, 2.5, 6.0, 9.5, 7.0, 6.8, 6.5, -5, -20, -19, -14.5, -13, -15.5, -20, -21.5, -21.5, -21, -20,
          -18.5, -16, -12, -7.5, -4, -2, -0.7, 5.0, 11.0, 8.0, 4.5, 1.5, 0.0, 3.0, 9.0, 13.0, 15.5, 16.2, 16.0, 15.3,
          14.0]
mx05_2 = [0, 0.8, 0.5, 0.8, 0, -0.5, -1.0, -2, -1, 0, 1.5, 1.2, 1.8, 3.5, 4.3, 4.0, 3.5, 2.7, 2.5, 3.0,
          5.0, 3.5, 2.0, 2.5, 6.0, 10.0, 7.5, 7.0, 6.7, -5, -20.5, -18, -13.5, -13, -15, -18, -22, -25, -22.5, -20.5,
          -18.5, -15.5, -11, -6.5, -3.5, -1.5, -1.0, 1.0, 9.0, 10.0, 4.0, 1.0, -0.5, 3.0, 10.0, 11.5, 12.5, 14.0, 15.5, 14.5,
          12.5]
mx05_3 = [0, 0.8, 0.5, 0.8, 0, -0.5, -1.0, -2, -1, 0, 1.0, 1.0, 1.5, 3.0, 4.0, 3.8, 3.0, 2.2, 2.0, 2.8,
          4.8, 3.5, 2.0, 2.5, 6.0, 9.5, 7.5, 7.0, 6.7, -5, -20, -18, -14, -13.5, -15, -19, -22, -24.5, -22.5, -20.5,
          -17.5, -15, -11, -7, -3.5, -1.5, -0.5, 2.0, 11.3, 9.0, 3.0, 1.0, 0.0, 3.5, 10.0, 11.0, 11.5, 12.5, 14.5, 14.0,
          11.0]
mx05_4 = [0, 0.8, 0.5, 0.8, 0, -0.5, -1.0, -2, -1, 0, 0.5, 0.5, 1.0, 2.0, 2.2, 2.2, 2.2, 1.8, 1.5, 2.0,
          3.5, 3.0, 2.0, 2.5, 6.0, 9.0, 7.5, 7.0, 6.5, -5, -18.5, -17, -12.5, -12, -14.5, -18, -22, -24, -21.5, -19.5,
          -17, -14, -9.5, -5.5, -2.5, -0.8, 0.0, 10.0, 7.5, 5.0, 2.0, 0.0, -1.5, 2.0, 10.0, 12.0, 13.0, 13.5, 12.5, 11.5,
          10.5]
mx05_5 = [0, 0.8, 0.5, 0.8, 0, -0.5, -1.0, -2, -1, 0, 0.3, 0.5, 1.0, 2.0, 3.5, 3.0, 2.0, 1.7, 1.5, 2.5,
          3.7, 3.0, 2.0, 2.5, 6.0, 9.0, 7.5, 7.0, 6.5, -5, -18.5, -17.5, -15, -15, -16.5, -20, -24.5, -23, -19.5, -18.5,
          -16, -12, -8, -4.5, -1.5, -0.5, 1.0, 11.3, 8.5, 5.0, 2.0, -0.5, -1.8, 2.5, 8.5, 12.0, 12.8, 11.0, 10.5, 10.3,
          9.5]


# ---------------------------------------------------------------- helpers
def split_rows(rows):
    t = [r[0] for r in rows]
    runs = [[r[k + 1] for r in rows] for k in range(6)]
    return t, runs


def midpoints(ticks):
    return [(a + b) / 2 for a, b in zip(ticks[:-1], ticks[1:])]


TICK_FONT = "Liberation Sans"
TITLE_FONT = "Lato"
TITLE_SIZE = "24px"
AXIS_GREY = "#4d4d4d"
GRID_GREY = "#8c8c8c"

PAGE_W, PAGE_H = 1338, 1679
HEADER_H = 42
LABEL_W = 180
LEFT_X0, LEFT_W = 180, 575
RIGHT_X0, RIGHT_W = 755, 583


def panel(t, runs, names, y_span, y_ticks, y_labels, frame, fig_x0, fig_w, band, legend_loc):
    fx0, fx1, fy0, fy1 = frame
    b0, b1 = band
    p = figure(width=fig_w, height=b1 - b0,
               x_range=Range1d(0, 400), y_range=Range1d(*y_span),
               min_border_left=fx0 - fig_x0, min_border_right=fig_x0 + fig_w - fx1,
               min_border_top=fy0 - b0, min_border_bottom=b1 - fy1,
               toolbar_location=None, output_backend="svg")
    p.outline_line_color = None
    p.background_fill_color = "white"
    p.border_fill_color = "white"

    xt = FixedTicker(ticks=TIME_TICKS, minor_ticks=midpoints(TIME_TICKS))
    yt = FixedTicker(ticks=y_ticks, minor_ticks=midpoints(y_ticks))
    p.xaxis.ticker = xt
    p.yaxis.ticker = yt
    p.xgrid.ticker = xt
    p.ygrid.ticker = yt
    p.xaxis.major_label_overrides = {v: str(v) for v in TIME_TICKS}
    p.yaxis.major_label_overrides = dict(zip(y_ticks, y_labels))

    for ax in (p.xaxis, p.yaxis):
        ax.axis_line_color = AXIS_GREY
        ax.axis_line_width = 2
        ax.major_tick_line_color = AXIS_GREY
        ax.minor_tick_line_color = AXIS_GREY
        ax.major_tick_in = 4
        ax.major_tick_out = 0
        ax.minor_tick_in = 4
        ax.minor_tick_out = 0
        ax.major_label_text_font = TICK_FONT
        ax.major_label_text_font_size = "11px"
        ax.major_label_text_color = "#1a1a1a"
        ax.major_label_standoff = 3
    p.xaxis.axis_label = "Time, ms"
    p.xaxis.axis_label_text_font = TICK_FONT
    p.xaxis.axis_label_text_font_size = "11px"
    p.xaxis.axis_label_text_font_style = "bold"
    p.xaxis.axis_label_text_color = "#1a1a1a"
    p.xaxis.axis_label_standoff = 3

    for g in (p.xgrid, p.ygrid):
        g.grid_line_color = GRID_GREY
        g.grid_line_dash = "1 2"
        g.grid_line_width = 1

    items = []
    for k in range(6):
        r = p.line(t, runs[k], line_color=COLORS[k], line_width=2)
        items.append(LegendItem(label=names[k], renderers=[r]))
    legend = Legend(items=items, location=legend_loc, margin=0, padding=6, spacing=0,
                    label_height=12, glyph_height=12, glyph_width=35, label_standoff=4,
                    label_text_font=TICK_FONT, label_text_font_size="11px",
                    label_text_color="#1a1a1a",
                    border_line_color="black", border_line_width=2, border_line_alpha=1.0,
                    background_fill_color="white", background_fill_alpha=1.0)
    p.add_layout(legend)
    return p


# ---------------------------------------------------------------- header
header = figure(width=PAGE_W, height=HEADER_H, x_range=Range1d(0, PAGE_W), y_range=Range1d(HEADER_H, 0),
                x_axis_type=None, y_axis_type=None, min_border=0,
                toolbar_location=None, output_backend="svg")
header.outline_line_color = None
header.grid.visible = False
header.add_layout(Span(location=5.5, dimension="width", line_color="black", line_width=2))
header.add_layout(Span(location=38.5, dimension="width", line_color="black", line_width=2))
header.add_layout(Label(x=19, y=23, text="Height, m", text_align="left", text_baseline="middle",
                        text_font=TITLE_FONT, text_font_size=TITLE_SIZE, text_color="#111111"))
for text, x in zip(HEIGHT_HEADERS, (435, 1038)):
    header.add_layout(Label(x=x, y=23, text=text, text_align="center", text_baseline="middle",
                            text_font=TITLE_FONT, text_font_size=TITLE_SIZE, text_color="#111111"))

# ---------------------------------------------------------------- row titles (one tall strip, page coordinates)
BANDS = [(42, 358), (358, 690), (690, 1020), (1020, 1350), (1350, 1679)]
TITLE_CENTERS = [199, 524, 856, 1187, 1517]

titles = figure(width=LABEL_W, height=PAGE_H - HEADER_H,
                x_range=Range1d(0, LABEL_W), y_range=Range1d(PAGE_H, HEADER_H),
                x_axis_type=None, y_axis_type=None, min_border=0,
                toolbar_location=None, output_backend="svg")
titles.outline_line_color = None
titles.grid.visible = False
for (first, second), cy in zip(ROW_TITLES, TITLE_CENTERS):
    for text, x in zip((first, second), (70, 104)):
        titles.add_layout(Label(x=x, y=cy, text=text, angle=math.pi / 2,
                                text_align="center", text_baseline="middle",
                                text_font=TITLE_FONT, text_font_size=TITLE_SIZE, text_color="#111111"))

# ---------------------------------------------------------------- grid of panels
acc02_t, acc02_runs = split_rows(acc02_rows)
acc05_t, acc05_runs = split_rows(acc05_rows)
vel02_t, vel02_runs = split_rows(vel02_rows)
vel05_t, vel05_runs = split_rows(vel05_rows)
ang02_t, ang02_runs = split_rows(ang02_rows)
ang05_runs = [ang05_0, ang05_1, ang05_2, ang05_3, ang05_4, ang05_5]
fy02_t, fy02_runs = split_rows(fy02_rows)
fy05_runs = [fy05_0, fy05_1, fy05_2, fy05_3, fy05_4, fy05_5]
mx02_runs = [mx02_0, mx02_1, mx02_2, mx02_3, mx02_4, mx02_5]
mx05_runs = [mx05_0, mx05_1, mx05_2, mx05_3, mx05_4, mx05_5]

specs = [
    # (left data, right data, y span, ticks, labels, left frame, right frame, right legend)
    ((acc02_t, acc02_runs), (acc05_t, acc05_runs), (-10, 6), ACC_TICKS, ACC_LABELS,
     (227, 651, 49, 321), (830, 1254, 49, 321), "bottom_left"),
    ((vel02_t, vel02_runs), (vel05_t, vel05_runs), (-1250, 1750), VEL_TICKS, VEL_LABELS,
     (229, 663, 366, 651), (834, 1262, 370, 650), "top_left"),
    ((ang02_t, ang02_runs), (ang05_t, ang05_runs), (-40, 60), ANG_TICKS, ANG_LABELS,
     (216, 661, 698, 982), (822, 1260, 700, 980), "bottom_left"),
    ((fy02_t, fy02_runs), (fy05_t, fy05_runs), (-0.45, 0.25), FY_TICKS, FY_LABELS,
     (228, 661, 1027, 1312), (831, 1263, 1027, 1312), "bottom_left"),
    ((mx02_t, mx02_runs), (mx05_t, mx05_runs), (-30, 20), MX_TICKS, MX_LABELS,
     (216, 662, 1358, 1643), (824, 1259, 1361, 1639), "bottom_left"),
]

panel_rows = []
for i, (ldat, rdat, yspan, ticks, labels, lframe, rframe, rloc) in enumerate(specs):
    band = BANDS[i]
    left = panel(ldat[0], ldat[1], NAMES_02, yspan, ticks, labels, lframe, LEFT_X0, LEFT_W, band, "bottom_left")
    right = panel(rdat[0], rdat[1], NAMES_05, yspan, ticks, labels, rframe, RIGHT_X0, RIGHT_W, band, rloc)
    panel_rows.append(row(column(left), column(right)))

page = column(header, row(titles, column(*panel_rows)))

with open("out.html", "w") as f:
    f.write(file_html(page, INLINE))
